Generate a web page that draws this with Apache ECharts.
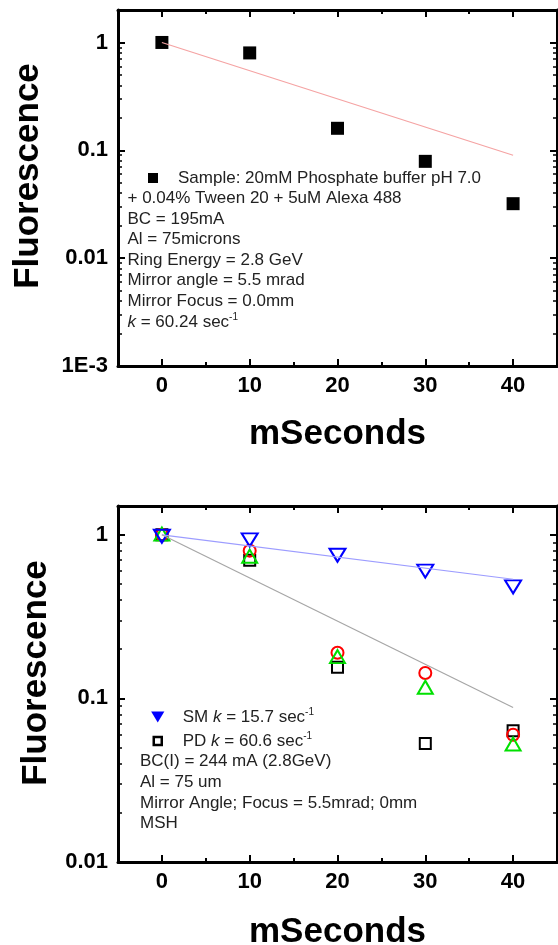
<!DOCTYPE html>
<html>
<head>
<meta charset="utf-8">
<script src="https://cdn.jsdelivr.net/npm/echarts@6/dist/echarts.min.js"></script>
<style>
  html, body { margin: 0; padding: 0; background: #fff; }
  #grafica { width: 558px; height: 945px; }
</style>
</head>
<body>
<div id="grafica"></div>
<script>
let mSeconds = [0, 10, 20, 30, 40];
let topSample = [1.0, 0.80, 0.16, 0.079, 0.032];
let topFitX = [0, 40];
let topFitY = [1.0, 0.09];

let smValues = [0.98, 0.93, 0.75, 0.60, 0.48];
let pdValues = [1.0, 0.70, 0.155, 0.053, 0.0635];
let redValues = [1.0, 0.80, 0.19, 0.143, 0.060];
let greenValues = [1.01, 0.74, 0.18, 0.117, 0.0526];
let smFitY = [1.0, 0.535];
let pdFitY = [1.0, 0.088];

let xTicks = [0, 10, 20, 30, 40];
let xMinorTicks = [5, 15, 25, 35];
let logLabels = { '1': '1', '0.1': '0.1', '0.01': '0.01', '0.001': '1E-3' };

let sampleName = 'Sample: 20mM Phosphate buffer pH 7.0';
let topNotes = [
  '+ 0.04% Tween 20 + 5uM Alexa 488',
  'BC = 195mA',
  'Al = 75microns',
  'Ring Energy = 2.8 GeV',
  'Mirror angle = 5.5 mrad',
  'Mirror Focus = 0.0mm',
  '{i|k} = 60.24 sec{sup|-1}'
];
let bottomNotes = [
  'BC(I) = 244 mA (2.8GeV)',
  'Al = 75 um',
  'Mirror Angle; Focus = 5.5mrad; 0mm',
  'MSH'
];

let fuente = 'Liberation Sans, Arial, sans-serif';

function pares(xs, ys) {
  return xs.map((x, i) => [x, ys[i]]);
}

function etiquetaLog(v) {
  let clave = String(+v.toPrecision(6));
  return logLabels[clave] || '';
}

function ejesX(grid, gap) {
  let base = {
    gridIndex: grid, type: 'value', min: -5, max: 45,
    splitLine: { show: false }
  };
  let linea = { show: true, onZero: false, lineStyle: { color: '#000', width: 3 } };
  let sinLinea = { show: false, onZero: false };
  let mayor = { inside: true, length: 7, customValues: xTicks, lineStyle: { color: '#000', width: 2 } };
  let menor = { inside: true, length: 4, customValues: xMinorTicks, lineStyle: { color: '#000', width: 2 } };
  return [
    Object.assign({}, base, {
      position: 'bottom', axisLine: linea, axisTick: mayor,
      axisLabel: { customValues: xTicks, fontSize: 22, fontWeight: 'bold', color: '#000', margin: 9, fontFamily: fuente },
      name: 'mSeconds', nameLocation: 'middle', nameGap: gap,
      nameTextStyle: { fontSize: 35, fontWeight: 'bold', color: '#000', fontFamily: fuente }
    }),
    Object.assign({}, base, { position: 'bottom', axisLine: sinLinea, axisTick: menor, axisLabel: { show: false } }),
    Object.assign({}, base, { position: 'top', axisLine: linea, axisTick: mayor, axisLabel: { show: false } }),
    Object.assign({}, base, { position: 'top', axisLine: sinLinea, axisTick: menor, axisLabel: { show: false } })
  ];
}

function ejesY(grid, min, max, gap, corrimiento) {
  let base = {
    gridIndex: grid, type: 'log', logBase: 10, min: min, max: max,
    splitLine: { show: false }, minorSplitLine: { show: false },
    axisLine: { show: true, onZero: false, lineStyle: { color: '#000', width: 3 } },
    axisTick: { inside: true, length: 7, lineStyle: { color: '#000', width: 2 } },
    minorTick: { show: true, splitNumber: 9, length: 4, lineStyle: { color: '#000', width: 1.5 } }
  };
  return [
    Object.assign({}, base, {
      position: 'left',
      axisLabel: { formatter: etiquetaLog, fontSize: 22, fontWeight: 'bold', color: '#000', margin: 10, fontFamily: fuente },
      name: 'Fluorescence', nameLocation: 'middle', nameRotate: 90, nameGap: gap,
      nameTextStyle: { fontSize: 35, fontWeight: 'bold', color: '#000', fontFamily: fuente, padding: [0, 0, 0, corrimiento] }
    }),
    Object.assign({}, base, { position: 'right', axisLabel: { show: false } })
  ];
}

function lineaAjuste(nombre, xs, ys, color, xi, yi) {
  return {
    name: nombre, type: 'line', xAxisIndex: xi, yAxisIndex: yi,
    data: pares(xs, ys), showSymbol: false, silent: true,
    lineStyle: { color: color, width: 1.2 }
  };
}

function puntos(nombre, ys, simbolo, tam, rot, color, relleno, xi, yi) {
  return {
    name: nombre, type: 'scatter', xAxisIndex: xi, yAxisIndex: yi,
    data: pares(mSeconds, ys), symbol: simbolo, symbolSize: tam, symbolRotate: rot,
    itemStyle: { color: relleno, borderColor: color, borderWidth: relleno === color ? 0 : 2, opacity: 1 }
  };
}

let richNotas = {
  i: { fontStyle: 'italic', fontSize: 17, fontFamily: fuente, lineHeight: 20.6 },
  sup: { fontSize: 10, fontFamily: fuente, padding: [0, 0, 9, 0], lineHeight: 20.6 }
};

let chartDom = document.getElementById('grafica');
let myChart = echarts.init(chartDom, null, { renderer: 'canvas' });

let option = {
  animation: false,
  backgroundColor: '#fff',
  grid: [
    { left: 118, top: 10, width: 439, height: 356, containLabel: false, outerBoundsMode: 'none' },
    { left: 118, top: 506, width: 439, height: 356, containLabel: false, outerBoundsMode: 'none' }
  ],
  xAxis: ejesX(0, 51).concat(ejesX(1, 53)),
  yAxis: ejesY(0, 0.001, 2, 72, 24).concat(ejesY(1, 0.01, 1.5, 64, 22)),
  legend: [
    {
      data: [{ name: sampleName, icon: 'path://M0,0L10,0L10,10L0,10Z' }],
      left: 148, top: 168, padding: 0, orient: 'vertical', selectedMode: false,
      itemWidth: 40, itemHeight: 10,
      textStyle: { fontSize: 17, color: '#222', fontFamily: fuente, lineHeight: 20 }
    },
    {
      data: [
        { name: 'SM', icon: 'path://M0,0L12,0L6,10Z', itemStyle: { color: '#0000ff', borderWidth: 0 } },
        { name: 'PD', icon: 'path://M-1.5,-1.5M0,0L8,0L8,8L0,8ZM9.5,9.5', itemStyle: { color: '#fff', borderColor: '#000', borderWidth: 2.5 } }
      ],
      left: 151, top: 707, padding: 0, orient: 'vertical', selectedMode: false,
      itemWidth: 40, itemHeight: 11, itemGap: 4,
      formatter: function (name) {
        return name === 'SM' ? 'SM {i|k} = 15.7 sec{sup|-1}' : 'PD {i|k} = 60.6 sec{sup|-1}';
      },
      textStyle: {
        fontSize: 17, color: '#222', fontFamily: fuente, lineHeight: 20,
        rich: {
          i: { fontStyle: 'italic', fontSize: 17, color: '#222', fontFamily: fuente, lineHeight: 20 },
          sup: { fontSize: 10, color: '#222', fontFamily: fuente, padding: [0, 0, 9, 0], lineHeight: 20 }
        }
      }
    }
  ],
  graphic: [
    {
      type: 'text', left: 127.5, top: 188, silent: true,
      style: { text: topNotes.join('\n'), fontSize: 17, fontFamily: fuente, fill: '#222', lineHeight: 20.6, rich: richNotas }
    },
    {
      type: 'text', left: 140, top: 751, silent: true,
      style: { text: bottomNotes.join('\n'), fontSize: 17, fontFamily: fuente, fill: '#222', lineHeight: 20.8 }
    }
  ],
  series: [
    lineaAjuste('ajusteArriba', topFitX, topFitY, '#f5a3a3', 0, 0),
    puntos(sampleName, topSample, 'rect', 13, 0, '#000', '#000', 0, 0),

    lineaAjuste('ajusteSM', topFitX, smFitY, '#9c9cff', 4, 2),
    lineaAjuste('ajustePD', topFitX, pdFitY, '#a6a6a6', 4, 2),
    puntos('PD', pdValues, 'rect', 11, 0, '#000', 'transparent', 4, 2),
    puntos('Rojo', redValues, 'circle', 12, 0, '#ff0000', 'transparent', 4, 2),
    puntos('Verde', greenValues, 'triangle', [15, 13], 0, '#00e000', 'transparent', 4, 2),
    puntos('SM', smValues, 'triangle', [16, 13], 180, '#0000ff', 'transparent', 4, 2)
  ]
};

myChart.setOption(option);
</script>
</body>
</html>
